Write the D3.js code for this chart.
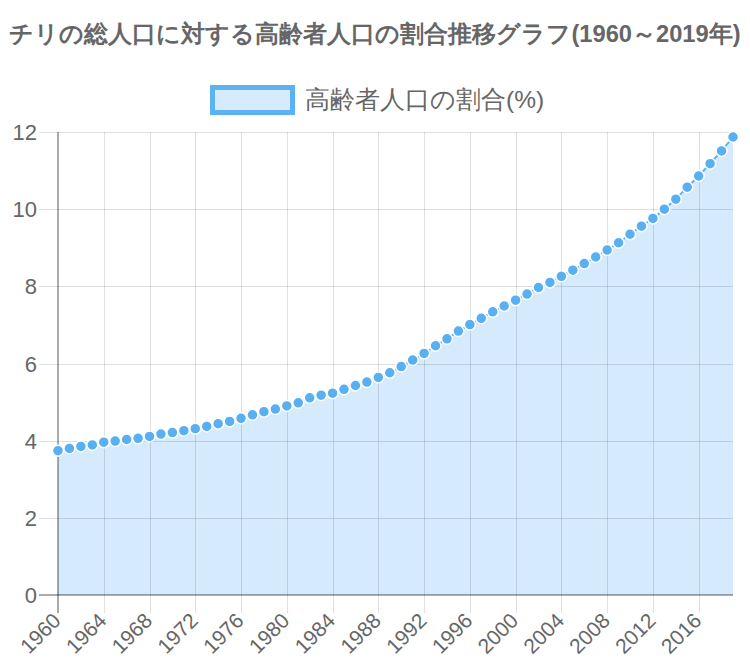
<!DOCTYPE html>
<html><head><meta charset="utf-8">
<script src="https://cdn.jsdelivr.net/npm/d3@7"></script>
<style>body{margin:0;background:#fff}svg{display:block}</style>
</head><body>
<svg id="c" width="750" height="666"></svg>
<script>
const title = "チリの総人口に対する高齢者人口の割合推移グラフ(1960～2019年)";
const seriesName = "高齢者人口の割合(%)";
const years = d3.range(1960, 2020);
const values = [3.74,3.80,3.85,3.89,3.96,3.99,4.03,4.06,4.11,4.17,
4.21,4.26,4.31,4.37,4.44,4.50,4.58,4.67,4.75,4.82,
4.90,4.98,5.11,5.18,5.23,5.33,5.43,5.52,5.64,5.76,
5.92,6.09,6.26,6.46,6.64,6.84,7.01,7.17,7.34,7.49,
7.64,7.80,7.97,8.10,8.26,8.42,8.59,8.76,8.94,9.13,
9.35,9.56,9.76,10.00,10.26,10.57,10.86,11.18,11.51,11.87];
const yTicks = [0,2,4,6,8,10,12];
const xTickYears = d3.range(1960, 2020, 4);

const svg = d3.select("#c");
const font = "'Liberation Sans', Arial, sans-serif";
const L = 58, R = 733, T = 132, B = 595;
const x = d3.scaleLinear().domain([1960, 2019]).range([L, R]);
const y = d3.scaleLinear().domain([0, 12]).range([B, T]);

svg.append("text").attr("x", 375).attr("y", 42).attr("text-anchor", "middle")
  .attr("font-family", font).attr("font-weight", "bold").attr("font-size", 23.7)
  .attr("fill", "#666").text(title);

// legend
svg.append("rect").attr("x", 212.5).attr("y", 87.5).attr("width", 80).attr("height", 25)
  .attr("fill", "#d6ebfd").attr("stroke", "#5cb3f4").attr("stroke-width", 5);
svg.append("text").attr("x", 305).attr("y", 108).attr("font-family", font)
  .attr("font-size", 24.5).attr("fill", "#666").text(seriesName);

const data = years.map((yr, i) => [yr, values[i]]);
svg.append("path").datum(data)
  .attr("d", d3.area().x(d => x(d[0])).y0(y(0)).y1(d => y(d[1])))
  .attr("fill", "#d5eafd");

// grid (drawn over the fill, translucent)
const g = svg.append("g");
g.selectAll(".hg").data(yTicks.filter(d => d !== 0)).join("line")
  .attr("x1", 39).attr("x2", R).attr("y1", d => Math.round(y(d)) + 0.5).attr("y2", d => Math.round(y(d)) + 0.5)
  .attr("stroke", "rgba(0,0,0,0.12)").attr("stroke-width", 1);
g.selectAll(".vg").data(xTickYears.filter(d => d !== 1960)).join("line")
  .attr("x1", d => Math.round(x(d)) + 0.5).attr("x2", d => Math.round(x(d)) + 0.5)
  .attr("y1", T).attr("y2", B + 18)
  .attr("stroke", "rgba(0,0,0,0.12)").attr("stroke-width", 1);
g.append("line").attr("x1", 39).attr("x2", R).attr("y1", y(0)).attr("y2", y(0))
  .attr("stroke", "rgba(0,0,0,0.33)").attr("stroke-width", 2);
g.append("line").attr("x1", x(1960)).attr("x2", x(1960)).attr("y1", T).attr("y2", B + 18)
  .attr("stroke", "rgba(0,0,0,0.33)").attr("stroke-width", 2);

// y labels
g.selectAll(".yl").data(yTicks).join("text")
  .attr("x", 37).attr("y", d => y(d) + 8).attr("text-anchor", "end")
  .attr("font-family", font).attr("font-size", 22).attr("fill", "#666").text(d => d);

// x labels
g.selectAll(".xl").data(xTickYears).join("text")
  .attr("transform", d => `translate(${x(d) + 4},${B + 27}) rotate(-45)`)
  .attr("text-anchor", "end").attr("font-family", font).attr("font-size", 21)
  .attr("fill", "#666").text(d => d);

svg.append("path").datum(data)
  .attr("d", d3.line().x(d => x(d[0])).y(d => y(d[1])))
  .attr("fill", "none").attr("stroke", "#5cb3f4").attr("stroke-width", 2);
svg.selectAll(".pt").data(data).join("circle")
  .attr("cx", d => x(d[0])).attr("cy", d => y(d[1])).attr("r", 5.5)
  .attr("fill", "#58b0f3").attr("stroke", "#fff").attr("stroke-width", 1.5);
</script>
</body></html>
